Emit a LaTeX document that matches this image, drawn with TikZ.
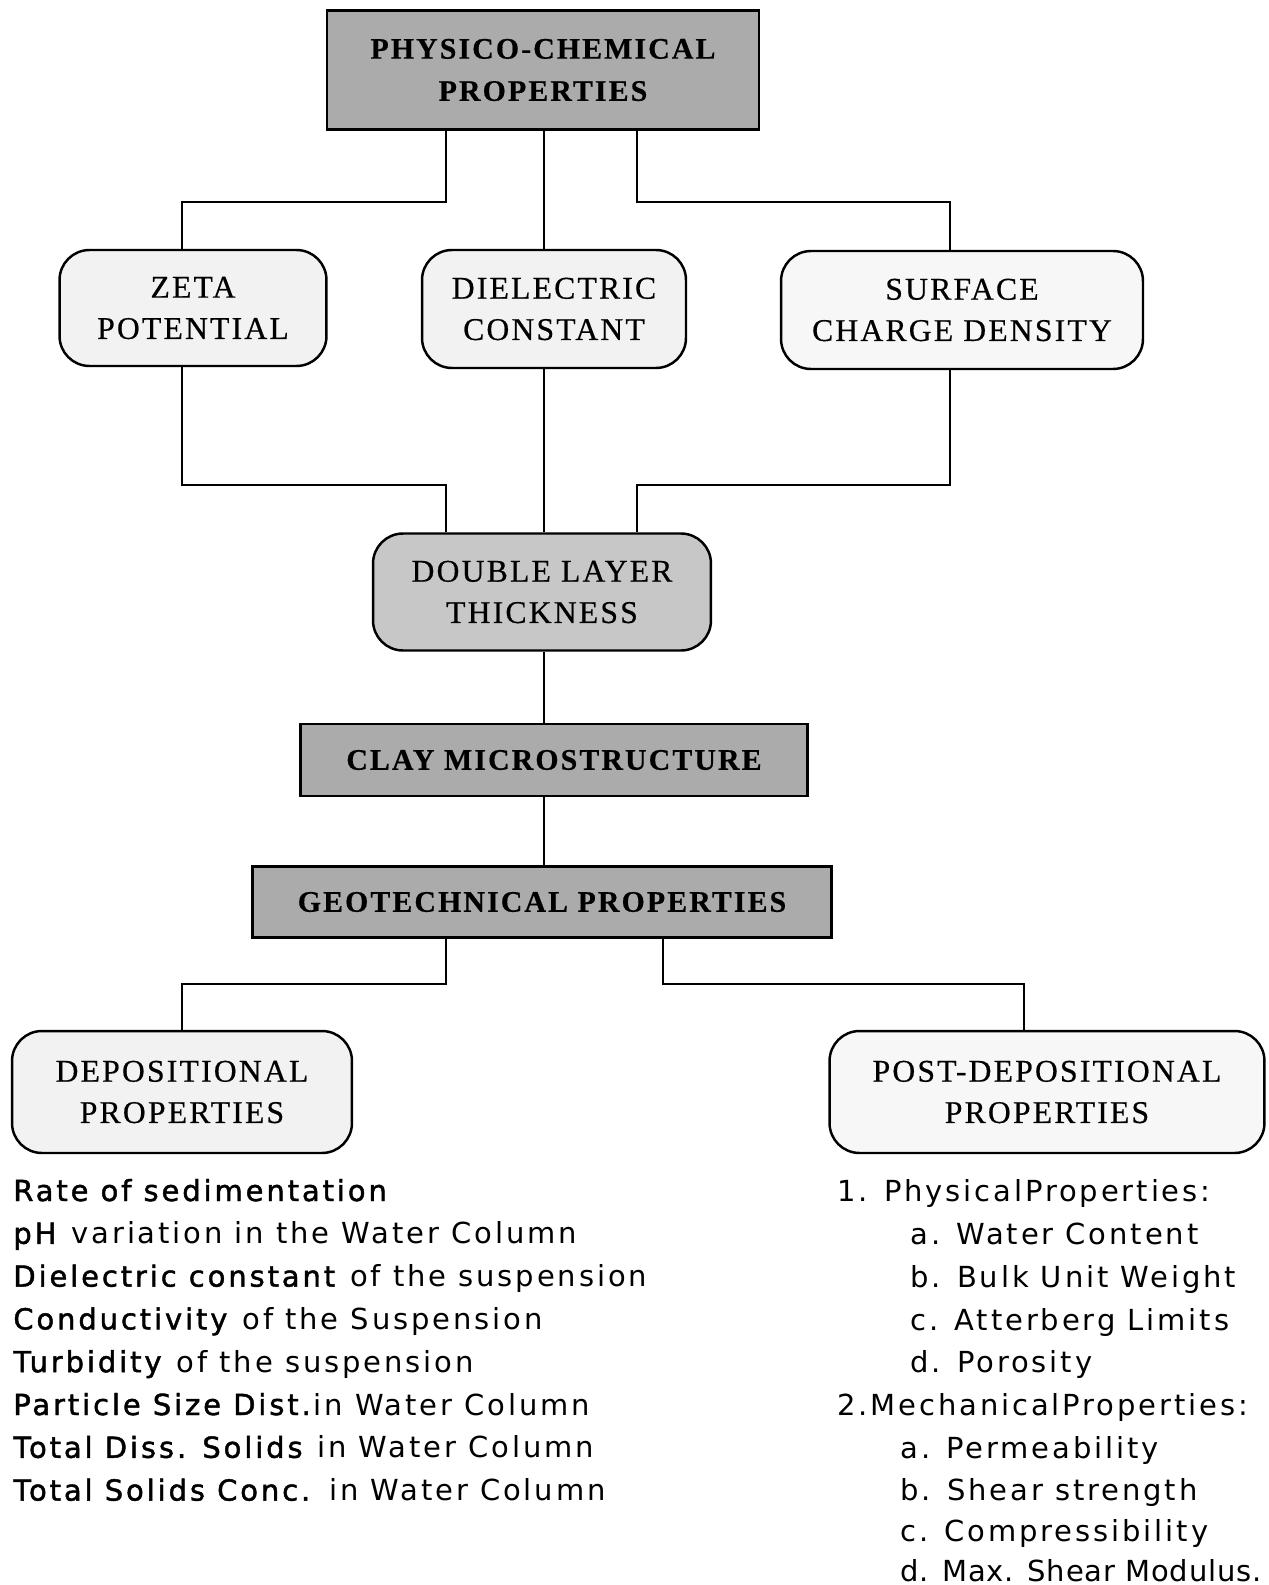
\documentclass[tikz,border=0pt]{standalone}
\usepackage{fontspec}
\setmainfont{Liberation Serif}[LetterSpace=7, FakeBold=0.5]
\setsansfont{DejaVu Sans}[LetterSpace=10, BoldFont={DejaVu Sans},BoldFeatures={FakeBold=1.5}]
\begin{document}
\begin{tikzpicture}[x=0.02cm, y=-0.02cm, line join=miter,
    darkbox/.style={draw, line width=1.4pt, fill=black!33, inner sep=0pt, align=center,
        font=\fontsize{17}{24}\selectfont\bfseries},
    softbox/.style={draw, line width=1.4pt, rounded corners=0.6cm, fill=black!5, inner sep=0pt,
        align=center, font=\fontsize{18}{23.5}\selectfont},
    link/.style={line width=1.2pt},
    item/.style={anchor=base west, inner sep=0pt, font=\sffamily\fontsize{16.5}{20}\selectfont}]
    \useasboundingbox (0,0) rectangle (1268,1585);
    % boxes
    \node[darkbox, minimum width=8.64cm, minimum height=2.38cm] (phys) at (543,70) {PHYSICO-CHEMICAL\\PROPERTIES};
    \node[softbox, minimum width=5.34cm, minimum height=2.32cm] (zeta) at (193,308) {ZETA\\POTENTIAL};
    \node[softbox, minimum width=5.28cm, minimum height=2.36cm] (diel) at (554,309) {DIELECTRIC\\CONSTANT};
    \node[softbox, fill=black!3, minimum width=7.24cm, minimum height=2.36cm] (surf) at (962,310) {SURFACE\\CHARGE DENSITY};
    \node[softbox, fill=black!22, minimum width=6.76cm, minimum height=2.34cm] (dlt) at (542,592) {DOUBLE LAYER\\THICKNESS};
    \node[darkbox, minimum width=10.14cm, minimum height=1.44cm] (clay) at (554,760) {CLAY MICROSTRUCTURE};
    \node[darkbox, minimum width=11.58cm, minimum height=1.42cm] (geo) at (542,902) {GEOTECHNICAL PROPERTIES};
    \node[softbox, minimum width=6.8cm, minimum height=2.44cm] (dep) at (182,1092) {DEPOSITIONAL\\PROPERTIES};
    \node[softbox, fill=black!3, minimum width=8.7cm, minimum height=2.44cm] (post) at (1047,1092) {POST-DEPOSITIONAL\\PROPERTIES};
    % columns and rows for the connectors
    \coordinate (xa) at (182,0);
    \coordinate (xb) at (446,0);
    \coordinate (xc) at (544,0);
    \coordinate (xd) at (637,0);
    \coordinate (xe) at (950,0);
    \coordinate (xf) at (663,0);
    \coordinate (xg) at (1024,0);
    \coordinate (ya) at (0,202);
    \coordinate (yb) at (0,485);
    \coordinate (yc) at (0,984);
    % connectors
    \draw[link] (phys.south -| xb) |- (ya -| xa) -- (zeta.north -| xa);
    \draw[link] (phys.south -| xc) -- (diel.north -| xc);
    \draw[link] (phys.south -| xd) |- (ya -| xe) -- (surf.north -| xe);
    \draw[link] (zeta.south -| xa) |- (yb -| xb) -- (dlt.north -| xb);
    \draw[link] (diel.south -| xc) -- (dlt.north -| xc);
    \draw[link] (surf.south -| xe) |- (yb -| xd) -- (dlt.north -| xd);
    \draw[link] (dlt.south -| xc) -- (clay.north -| xc);
    \draw[link] (clay.south -| xc) -- (geo.north -| xc);
    \draw[link] (geo.south -| xb) |- (yc -| xa) -- (dep.north -| xa);
    \draw[link] (geo.south -| xf) |- (yc -| xg) -- (post.north -| xg);
    % depositional list
    \foreach \txt [count=\i] in {\textbf{Rate of sedimentation},
            \textbf{pH} variation in the Water Column,
            \textbf{Dielectric constant} of the suspension,
            \textbf{Conductivity} of the Suspension,
            \textbf{Turbidity} of the suspension,
            \textbf{Particle Size Dist.}in Water Column,
            \textbf{Total Diss. Solids} in Water Column,
            \textbf{Total Solids Conc.} in Water Column}
        \node[item] (dp\i) at (13,{1201+42.8*(\i-1)}) {\txt};
    % post-depositional list
    \foreach \txt/\x/\y [count=\i] in {1. PhysicalProperties:/837/1201,
            a. Water Content/910/1244,
            b. Bulk Unit Weight/910/1287,
            c. Atterberg Limits/910/1330,
            d. Porosity/910/1372,
            2.MechanicalProperties:/837/1415,
            a. Permeability/900/1458,
            b. Shear strength/900/1500,
            c. Compressibility/900/1541,
            {\addfontfeatures{LetterSpace=3}d. Max. Shear Modulus.}/900/1581}
        \node[item] (pp\i) at (\x,\y) {\txt};
\end{tikzpicture}
\end{document}
